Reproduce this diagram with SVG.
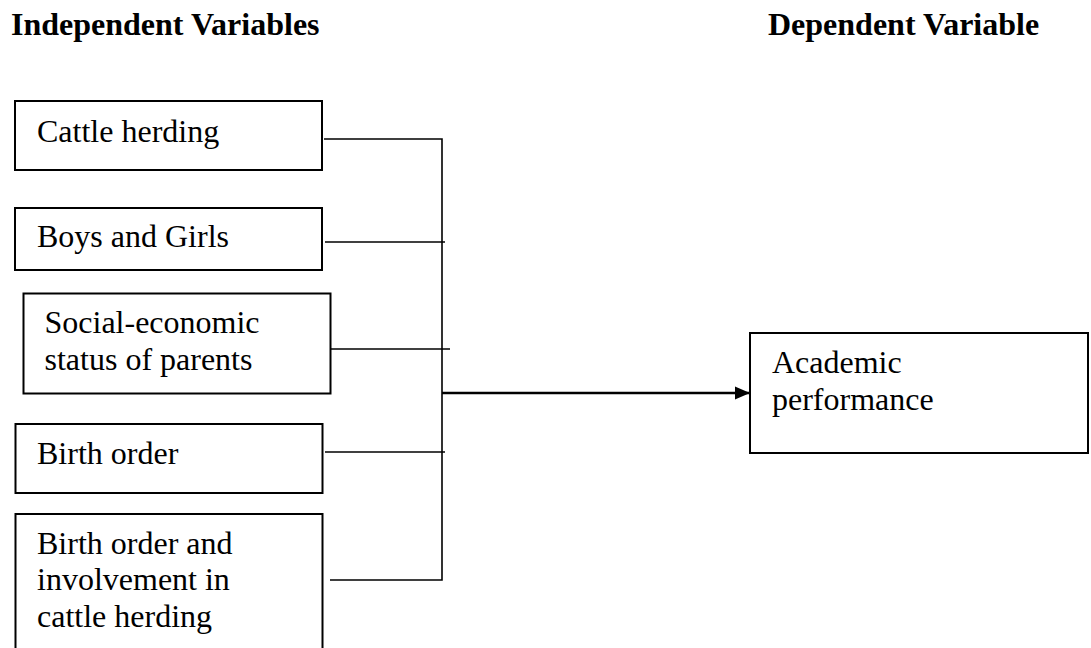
<svg xmlns="http://www.w3.org/2000/svg" width="1091" height="648" viewBox="0 0 1091 648">
<style>
.box{fill:#fff;stroke:#000;stroke-width:2}
.t{font-family:"Liberation Serif","Times New Roman",serif;font-size:32px;fill:#000}
.h{font-family:"Liberation Serif","Times New Roman",serif;font-size:32px;font-weight:bold;fill:#000}
.c{stroke:#000;stroke-width:1.6;fill:none}
.a{stroke:#000;stroke-width:2.4;fill:none}
</style>
<defs>
<marker id="arr" markerWidth="15" markerHeight="14" refX="15" refY="7" orient="auto" markerUnits="userSpaceOnUse">
<path d="M0,0.5 L15,7 L0,13.5 Z" fill="#000"/>
</marker>
</defs>
<rect width="1091" height="648" fill="#fff"/>
<g id="headers">
<text class="h" x="11" y="35">Independent Variables</text>
<text class="h" x="768" y="35">Dependent Variable</text>
</g>
<g id="n1"><rect class="box" x="15" y="101" width="307" height="69"/><text class="t" x="37" y="142">Cattle herding</text></g>
<g id="n2"><rect class="box" x="15" y="208" width="307" height="62"/><text class="t" x="37" y="247">Boys and Girls</text></g>
<g id="n3"><rect class="box" x="23.5" y="293.5" width="307" height="100"/><text class="t" x="44.5" y="333">Social-economic</text><text class="t" x="44.5" y="370">status of parents</text></g>
<g id="n4"><rect class="box" x="15.5" y="424" width="307" height="69"/><text class="t" x="37" y="464">Birth order</text></g>
<g id="n5"><rect class="box" x="15.5" y="514" width="307" height="150"/><text class="t" x="37" y="554">Birth order and</text><text class="t" x="37" y="590">involvement in</text><text class="t" x="37" y="627">cattle herding</text></g>
<g id="n6"><rect class="box" x="750" y="333" width="338" height="120"/><text class="t" x="772" y="373">Academic</text><text class="t" x="772" y="410">performance</text></g>
<g id="connectors">
<path class="c" d="M324,139 H442 V580 H330"/>
<path class="c" d="M325,242 H445"/>
<path class="c" d="M331,349 H450"/>
<path class="c" d="M325,452 H445"/>
<path class="a" d="M442,393 H750" marker-end="url(#arr)"/>
</g>
</svg>
